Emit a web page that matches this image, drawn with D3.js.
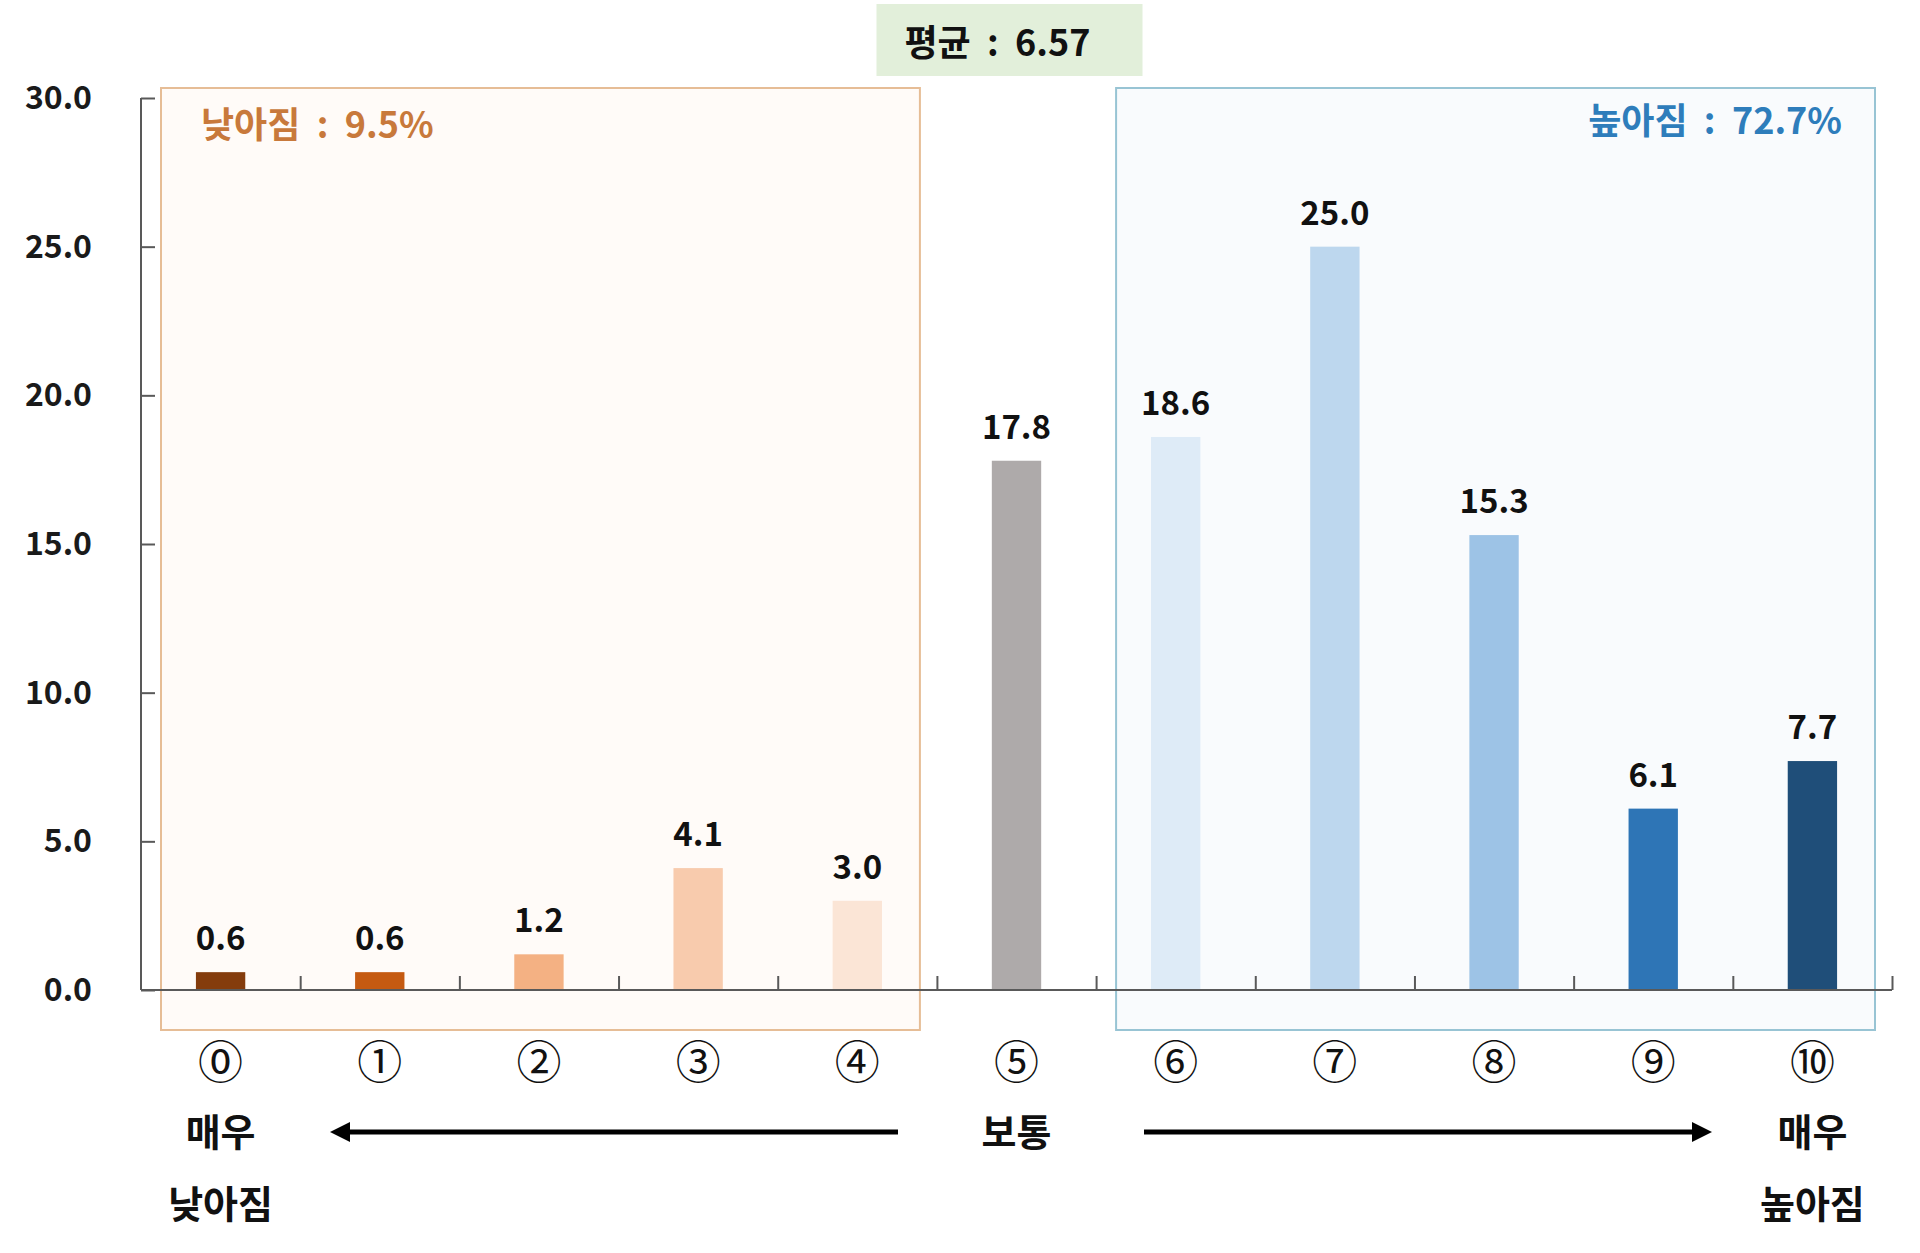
<!DOCTYPE html>
<html>
<head>
<meta charset="utf-8">
<script src="https://cdn.jsdelivr.net/npm/d3@7"></script>
<style>
  body { margin: 0; background: #fff; }
  svg text { font-family: "Noto Sans CJK KR", "Noto Sans", sans-serif; white-space: pre; }
</style>
</head>
<body>
<div class="chart"><svg></svg></div>
<script>
// 점수 (0~10)
const categories = ["⓪", "①", "②", "③", "④", "⑤", "⑥", "⑦", "⑧", "⑨", "⑩"];
const values = [0.6, 0.6, 1.2, 4.1, 3.0, 17.8, 18.6, 25.0, 15.3, 6.1, 7.7];
const yTicks = [0, 5, 10, 15, 20, 25, 30];
const meanLabel = "평균  :  6.57";
const lowLabel = "낮아짐  :  9.5%";
const highLabel = "높아짐  :  72.7%";

const barColors = [
  "#843c0c", "#c55a11", "#f4b183", "#f8cbad", "#fbe5d6",
  "#aeaaaa",
  "#deebf7", "#bdd7ee", "#9dc3e6", "#2e75b6", "#1f4e79"
];

const width = 1920, height = 1253;
const margin = { left: 141, right: 28, top: 98, bottom: 263 };

const svg = d3.select(".chart svg")
  .attr("width", width)
  .attr("height", height);

const x = d3.scaleBand()
  .domain(categories)
  .range([margin.left, width - margin.right])
  .paddingInner(0.69)
  .paddingOuter(0.345);

// 눈금 위치용 (간격 경계)
const xEdge = d3.scaleLinear()
  .domain([0, categories.length])
  .range([margin.left, width - margin.right]);

const y = d3.scaleLinear()
  .domain([0, 30])
  .range([height - margin.bottom, margin.top]);

// 낮아짐 / 높아짐 영역 박스
function groupBox(from, to, fill, stroke) {
  svg.append("rect")
    .attr("x", xEdge(from) + 20)
    .attr("y", y(30) - 10)
    .attr("width", xEdge(to) - 17 - (xEdge(from) + 20))
    .attr("height", y(0) + 40 - (y(30) - 10))
    .attr("fill", fill)
    .attr("stroke", stroke)
    .attr("stroke-width", 2);
}
groupBox(0, 5, "#fffbf8", "#e6bd96");
groupBox(6, 11, "#f9fbfd", "#98c4d4");

svg.append("text")
  .attr("x", xEdge(0) + 60)
  .attr("y", 138)
  .attr("fill", "#c8793b")
  .attr("font-size", 36)
  .attr("font-weight", "bold")
  .text(lowLabel);

svg.append("text")
  .attr("x", xEdge(11) - 50)
  .attr("y", 134)
  .attr("text-anchor", "end")
  .attr("fill", "#2e7dbb")
  .attr("font-size", 36)
  .attr("font-weight", "bold")
  .text(highLabel);

// 평균 박스
const meanX = x(categories[5]) + x.bandwidth() / 2 - 7;
svg.append("rect")
  .attr("x", meanX - 133)
  .attr("y", 4)
  .attr("width", 266)
  .attr("height", 72)
  .attr("fill", "#e2efda");
svg.append("text")
  .attr("x", meanX - 12)
  .attr("y", 56)
  .attr("text-anchor", "middle")
  .attr("fill", "#111")
  .attr("font-size", 36)
  .attr("font-weight", "bold")
  .text(meanLabel);

// 막대
svg.append("g")
  .selectAll("rect")
  .data(values)
  .enter()
  .append("rect")
  .attr("x", (d, i) => x(categories[i]))
  .attr("y", d => y(d))
  .attr("width", x.bandwidth())
  .attr("height", d => y(0) - y(d))
  .attr("fill", (d, i) => barColors[i]);

// 값 라벨
svg.append("g")
  .selectAll("text")
  .data(values)
  .enter()
  .append("text")
  .attr("x", (d, i) => x(categories[i]) + x.bandwidth() / 2)
  .attr("y", d => y(d) - 22)
  .attr("text-anchor", "middle")
  .attr("fill", "#111")
  .attr("font-size", 33)
  .attr("font-weight", "bold")
  .text(d => d.toFixed(1));

// y축
const yAxis = svg.append("g")
  .attr("transform", "translate(" + margin.left + ",0)")
  .call(d3.axisRight(y).tickValues(yTicks).tickSize(14).tickFormat(""));
yAxis.select(".domain").attr("stroke", "#595959").attr("stroke-width", 2)
  .attr("d", "M0," + y(30) + "V" + y(0));
yAxis.selectAll(".tick line").attr("stroke", "#595959").attr("stroke-width", 2);

svg.append("g")
  .selectAll("text")
  .data(yTicks)
  .enter()
  .append("text")
  .attr("x", 92)
  .attr("y", d => y(d) + 11)
  .attr("text-anchor", "end")
  .attr("fill", "#1a1a1a")
  .attr("font-size", 32)
  .attr("font-weight", "bold")
  .text(d => d.toFixed(1));

// x축
const xAxis = svg.append("g")
  .attr("transform", "translate(0," + y(0) + ")")
  .call(d3.axisTop(xEdge).tickValues(d3.range(1, categories.length + 1)).tickSize(14).tickFormat(""));
xAxis.select(".domain").attr("stroke", "#595959").attr("stroke-width", 2)
  .attr("d", "M" + margin.left + ",0H" + (width - margin.right));
xAxis.selectAll(".tick line").attr("stroke", "#595959").attr("stroke-width", 2);

// 점수 라벨 (원문자)
svg.append("g")
  .selectAll("text")
  .data(categories)
  .enter()
  .append("text")
  .attr("x", d => x(d) + x.bandwidth() / 2)
  .attr("y", 1079)
  .attr("text-anchor", "middle")
  .attr("fill", "#111")
  .attr("font-size", 45)
  .text(d => d);

// 하단 설명
const notes = [
  { cat: 0, lines: ["매우", "낮아짐"] },
  { cat: 5, lines: ["보통"] },
  { cat: 10, lines: ["매우", "높아짐"] }
];
notes.forEach(n => {
  n.lines.forEach((t, j) => {
    svg.append("text")
      .attr("x", x(categories[n.cat]) + x.bandwidth() / 2)
      .attr("y", 1146 + j * 72)
      .attr("text-anchor", "middle")
      .attr("fill", "#111")
      .attr("font-size", 38)
      .attr("font-weight", "bold")
      .text(t);
  });
});

// 화살표
svg.append("defs").append("marker")
  .attr("id", "head")
  .attr("viewBox", "0 0 10 10")
  .attr("refX", 5)
  .attr("refY", 5)
  .attr("markerWidth", 4)
  .attr("markerHeight", 4)
  .attr("orient", "auto")
  .append("path")
  .attr("d", "M0,0L10,5L0,10Z")
  .attr("fill", "#000");

svg.append("line")
  .attr("x1", 898).attr("y1", 1132)
  .attr("x2", 340).attr("y2", 1132)
  .attr("stroke", "#000").attr("stroke-width", 5)
  .attr("marker-end", "url(#head)");
svg.append("line")
  .attr("x1", 1144).attr("y1", 1132)
  .attr("x2", 1702).attr("y2", 1132)
  .attr("stroke", "#000").attr("stroke-width", 5)
  .attr("marker-end", "url(#head)");
</script>
</body>
</html>
